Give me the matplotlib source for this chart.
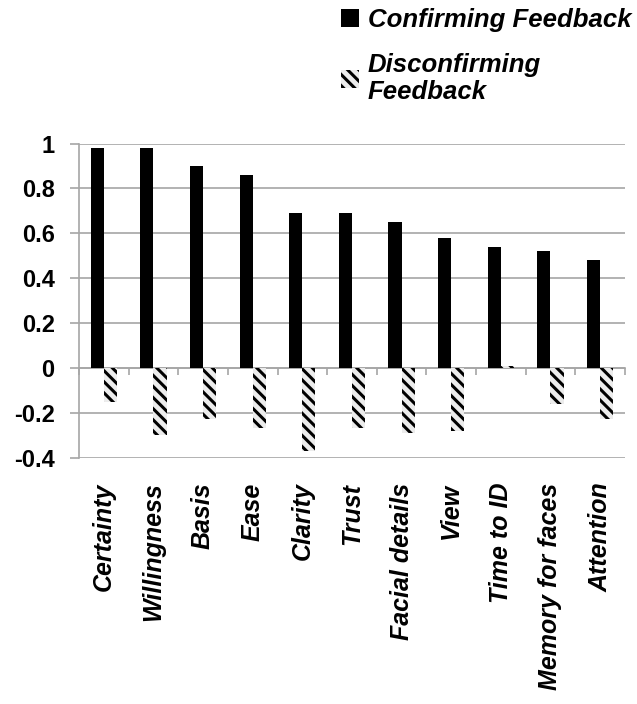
import numpy as np
import matplotlib
matplotlib.use('Agg')
import matplotlib.pyplot as plt

plt.rcParams['font.family'] = ['Liberation Sans', 'DejaVu Sans']
plt.rcParams['hatch.linewidth'] = 2.2

categories = ['Certainty', 'Willingness', 'Basis', 'Ease', 'Clarity', 'Trust',
              'Facial details', 'View', 'Time to ID', 'Memory for faces', 'Attention']
confirming = [0.98, 0.98, 0.90, 0.86, 0.69, 0.69, 0.65, 0.58, 0.54, 0.52, 0.48]
disconfirming = [-0.15, -0.30, -0.23, -0.27, -0.37, -0.27, -0.29, -0.28, 0.01, -0.16, -0.23]
yticks = [-0.4, -0.2, 0, 0.2, 0.4, 0.6, 0.8, 1]
ytick_labels = ['-0.4', '-0.2', '0', '0.2', '0.4', '0.6', '0.8', '1']
series_names = ['Confirming Feedback', 'Disconfirming\nFeedback']

grid_col = '#a6a6a6'
w = 0.265

fig = plt.figure(figsize=(6.37, 7.04), dpi=100)
ax = fig.add_axes([0.124, 0.350, 0.857, 0.446])

x = np.arange(len(categories))
ax.bar(x - w / 2, confirming, w, color='black', label=series_names[0], zorder=3)
ax.bar(x + w / 2, disconfirming, w, color='#ececec', edgecolor='black',
       hatch='\\\\\\', linewidth=0, label=series_names[1], zorder=3)

ax.set_xlim(-0.5, len(categories) - 0.5)
ax.set_ylim(-0.4, 1)
ax.set_yticks(yticks)
ax.set_yticklabels(ytick_labels, fontsize=17, fontweight='bold')
ax.yaxis.grid(True, color=grid_col, lw=1.2)
ax.set_axisbelow(True)

for s in ['top', 'right']:
    ax.spines[s].set_visible(False)
ax.spines['left'].set_color(grid_col)
ax.spines['left'].set_linewidth(1.2)
ax.spines['bottom'].set_position(('data', 0))
ax.spines['bottom'].set_color(grid_col)
ax.spines['bottom'].set_linewidth(1.2)

ax.tick_params(axis='y', length=6.5, width=1.2, color=grid_col, pad=11)
ax.set_xticks(np.arange(-0.5, len(categories), 1))
ax.tick_params(axis='x', length=5, width=1.2, color=grid_col, labelbottom=False)

sec = ax.secondary_xaxis(0.0)
sec.set_xticks(x, labels=categories)
sec.tick_params(length=0, pad=18)
sec.spines['bottom'].set_visible(False)
for lab in sec.get_xticklabels():
    lab.set_rotation(90)
    lab.set_fontsize(18)
    lab.set_fontweight('bold')
    lab.set_fontstyle('italic')
    lab.set_va('top')
    lab.set_ha('center')

leg = fig.legend(loc='upper left', bbox_to_anchor=(0.535, 0.988), frameon=False,
                 prop={'size': 18.5, 'weight': 'bold', 'style': 'italic'},
                 handlelength=0.7, handleheight=0.7, handletextpad=0.35,
                 labelspacing=0.8, borderpad=0, borderaxespad=0)
for t in leg.get_texts():
    t.set_linespacing(1.15)

fig.savefig('out.png', dpi=100)
